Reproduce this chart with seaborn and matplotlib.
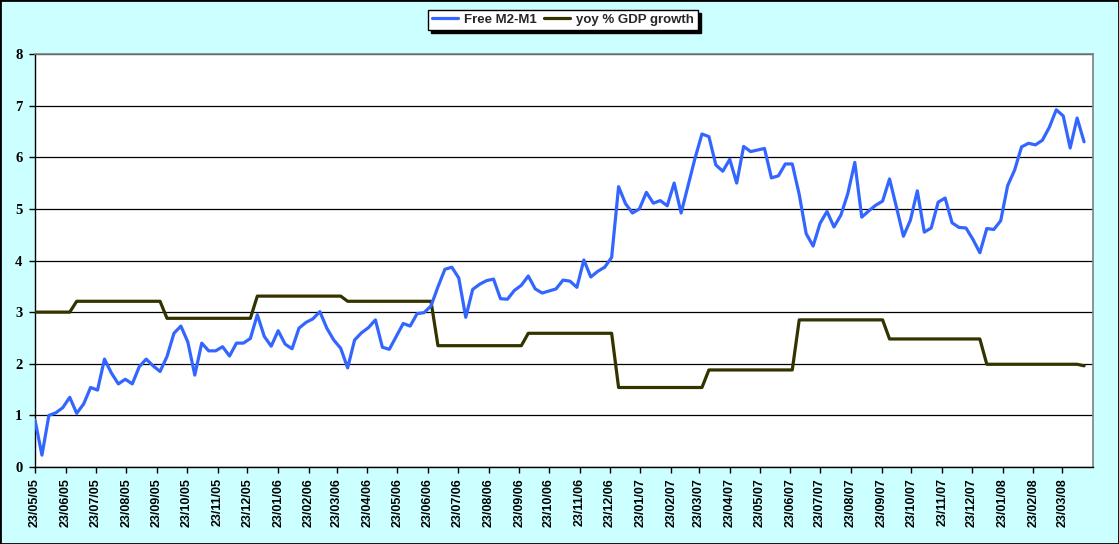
import matplotlib
matplotlib.use('Agg')
import matplotlib.pyplot as plt
import matplotlib.dates as mdates
import matplotlib.patches as mpatches
import pandas as pd
import seaborn as sns

# ---------------- data (weekly observations) ----------------
start_date = '2005-05-23'
series_names = ['Free M2-M1', 'yoy % GDP growth']

free_m2_m1 = [
    0.91, 0.23, 1.00, 1.05, 1.15, 1.35, 1.04, 1.22, 1.54, 1.49,
    2.09, 1.82, 1.61, 1.70, 1.61, 1.94, 2.09, 1.96, 1.85, 2.14,
    2.59, 2.73, 2.42, 1.78, 2.40, 2.25, 2.25, 2.33, 2.15, 2.40,
    2.40, 2.49, 2.95, 2.53, 2.34, 2.64, 2.38, 2.29, 2.69, 2.80,
    2.87, 3.01, 2.69, 2.46, 2.30, 1.92, 2.46, 2.60, 2.70, 2.85,
    2.32, 2.28, 2.53, 2.78, 2.73, 2.97, 2.99, 3.12, 3.49, 3.83,
    3.87, 3.66, 2.90, 3.44, 3.54, 3.61, 3.64, 3.26, 3.25, 3.42,
    3.52, 3.70, 3.45, 3.37, 3.41, 3.45, 3.62, 3.60, 3.48, 4.01,
    3.68, 3.79, 3.87, 4.06, 5.43, 5.10, 4.92, 5.00, 5.32, 5.11,
    5.16, 5.06, 5.50, 4.92, 5.45, 5.98, 6.45, 6.40, 5.85, 5.73,
    5.96, 5.50, 6.21, 6.11, 6.14, 6.17, 5.60, 5.64, 5.87, 5.87,
    5.28, 4.52, 4.28, 4.72, 4.95, 4.65, 4.88, 5.30, 5.90, 4.84,
    4.96, 5.07, 5.15, 5.58, 5.03, 4.47, 4.78, 5.35, 4.55, 4.63,
    5.13, 5.21, 4.73, 4.64, 4.63, 4.41, 4.15, 4.62, 4.60, 4.77,
    5.45, 5.75, 6.20, 6.27, 6.24, 6.33, 6.58, 6.92, 6.80, 6.18,
    6.76, 6.30,
]

gdp_growth = (
    [3.00] * 6 + [3.21] * 13 + [2.88] * 13 + [3.31] * 13 + [3.21] * 13 +
    [2.35] * 13 + [2.59] * 13 + [1.54] * 13 + [1.88] * 13 + [2.85] * 13 +
    [2.48] * 14 + [1.99] * 14 + [1.96]
)

tick_start = '2005-05-23'
n_ticks = 35
axis_end = '2008-04-23'
tick_format = '%d/%m/%y'
y_ticks = [0, 1, 2, 3, 4, 5, 6, 7, 8]

# ---------------- styling ----------------
bg = '#CCFFFF'
blue = '#3366FF'
olive = '#333300'

sns.set_theme(style='white')
plt.rcParams['font.family'] = ['Liberation Sans', 'DejaVu Sans']

dates = pd.date_range(start_date, periods=len(free_m2_m1), freq='7D')
df = pd.DataFrame({'date': dates, series_names[0]: free_m2_m1,
                   series_names[1]: gdp_growth})

fig = plt.figure(figsize=(11.19, 5.44), dpi=100, facecolor=bg)
ax = fig.add_axes([35 / 1119, 1 - 467 / 544, (1093 - 35) / 1119, (467 - 54) / 544])
ax.set_facecolor('white')

sns.lineplot(data=df, x='date', y=series_names[0], ax=ax, color=blue,
             linewidth=2.3, label=series_names[0], zorder=4)
sns.lineplot(data=df, x='date', y=series_names[1], ax=ax, color=olive,
             linewidth=2.3, label=series_names[1], zorder=3)

ax.set_xlim(pd.Timestamp(tick_start), pd.Timestamp(axis_end))
ax.set_ylim(0, 8)
ax.set_xlabel('')
ax.set_ylabel('')

ticks = pd.date_range(tick_start, periods=n_ticks, freq=pd.DateOffset(months=1))
ax.set_xticks(ticks)
ax.xaxis.set_major_formatter(mdates.DateFormatter(tick_format))
ax.set_yticks(y_ticks)

for lab in ax.get_xticklabels():
    lab.set_rotation(90)
    lab.set_fontweight('bold')
    lab.set_fontsize(9)
    lab.set_fontfamily(['Liberation Sans', 'DejaVu Sans'])
    lab.set_color('black')
for lab in ax.get_yticklabels():
    lab.set_fontweight('bold')
    lab.set_fontsize(10.5)
    lab.set_fontfamily(['Liberation Serif', 'DejaVu Serif'])
    lab.set_color('black')

ax.tick_params(axis='both', which='major', direction='out', length=4,
               width=1, color='black', left=True, bottom=True)
ax.tick_params(axis='y', pad=5)
ax.tick_params(axis='x', pad=4)

ax.yaxis.grid(True, color='black', linewidth=0.9)
ax.xaxis.grid(False)
ax.set_axisbelow(True)

for side in ['left', 'bottom']:
    ax.spines[side].set_color('black')
    ax.spines[side].set_linewidth(1)
for side in ['top', 'right']:
    ax.spines[side].set_color('#808080')
    ax.spines[side].set_linewidth(1.2)

handles, labels = ax.get_legend_handles_labels()
ax.get_legend().remove()
leg = fig.legend(handles, labels, loc='center', bbox_to_anchor=(563 / 1119, 1 - 20 / 544),
                 ncol=2, frameon=True, fancybox=False,
                 shadow={'ox': 2.2, 'oy': -2.2, 'color': 'black', 'alpha': 1.0},
                 prop={'weight': 'bold', 'size': 9.5},
                 handlelength=2.0, handletextpad=0.45, columnspacing=0.5,
                 borderpad=0.3, borderaxespad=0)
leg.get_frame().set_edgecolor('black')
leg.get_frame().set_linewidth(1)
leg.get_frame().set_facecolor('white')
for h in leg.get_lines():
    h.set_linewidth(2.3)

fig.patches.append(mpatches.Rectangle((0, 0), 1, 1, transform=fig.transFigure,
                                      fill=False, edgecolor='black', linewidth=2))

fig.savefig('out.png', dpi=100, facecolor=bg)
